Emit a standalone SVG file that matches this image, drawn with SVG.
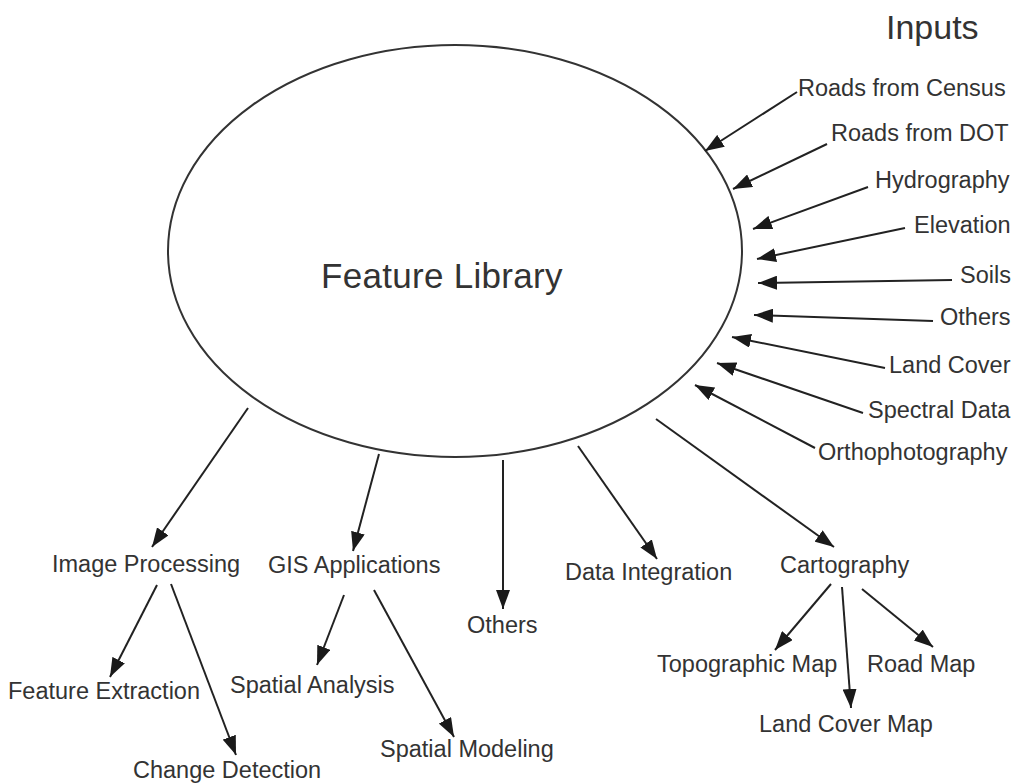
<svg xmlns="http://www.w3.org/2000/svg" width="1011" height="783" viewBox="0 0 1011 783">
<defs>
<style>
text{font-family:"Liberation Sans",Arial,sans-serif;fill:#333;font-size:23.5px}
.big{font-size:35px;letter-spacing:0.3px}
.hdr{font-size:34px}
.c line{stroke:#222;stroke-width:2;marker-end:url(#ah)}
</style>
<marker id="ah" viewBox="0 0 19 14" refX="19" refY="7" markerWidth="19" markerHeight="14" markerUnits="userSpaceOnUse" orient="auto">
<path d="M0,0 L19,7 L0,14 Z" fill="#1a1a1a"/>
</marker>
</defs>
<rect width="1011" height="783" fill="#fff"/>
<g id="feature-library">
<ellipse cx="455" cy="251" rx="287" ry="206" fill="none" stroke="#333" stroke-width="2"/>
<text class="big" x="321" y="288">Feature Library</text>
</g>
<g id="inputs-title"><text class="hdr" x="886" y="39">Inputs</text></g>
<g id="in-census"><text x="798" y="96">Roads from Census</text></g>
<g id="in-dot"><text x="831" y="141">Roads from DOT</text></g>
<g id="in-hydro"><text x="875" y="188">Hydrography</text></g>
<g id="in-elev"><text x="914" y="233">Elevation</text></g>
<g id="in-soils"><text x="960" y="283">Soils</text></g>
<g id="in-others"><text x="940" y="325">Others</text></g>
<g id="in-landcover"><text x="889" y="373">Land Cover</text></g>
<g id="in-spectral"><text x="868" y="418">Spectral Data</text></g>
<g id="in-ortho"><text x="818" y="460">Orthophotography</text></g>
<g id="out-image"><text x="52" y="572">Image Processing</text></g>
<g id="out-gis"><text x="268" y="573">GIS Applications</text></g>
<g id="out-others"><text x="467" y="633">Others</text></g>
<g id="out-data"><text x="565" y="580">Data Integration</text></g>
<g id="out-carto"><text x="780" y="573">Cartography</text></g>
<g id="feat-extract"><text x="8" y="699">Feature Extraction</text></g>
<g id="change-detect"><text x="133" y="778">Change Detection</text></g>
<g id="spatial-analysis"><text x="230" y="693">Spatial Analysis</text></g>
<g id="spatial-model"><text x="380" y="757">Spatial Modeling</text></g>
<g id="topo-map"><text x="657" y="672">Topographic Map</text></g>
<g id="road-map"><text x="867" y="672">Road Map</text></g>
<g id="landcover-map"><text x="759" y="732">Land Cover Map</text></g>
<g id="connectors" class="c">
<line x1="797" y1="92" x2="705" y2="151"/>
<line x1="827" y1="144" x2="733" y2="189"/>
<line x1="868" y1="187" x2="753" y2="229"/>
<line x1="905" y1="228" x2="757" y2="259"/>
<line x1="952" y1="280" x2="758" y2="283"/>
<line x1="933" y1="321" x2="754" y2="315"/>
<line x1="885" y1="368" x2="732" y2="337"/>
<line x1="863" y1="413" x2="717" y2="363"/>
<line x1="815" y1="448" x2="695" y2="385"/>
<line x1="248" y1="408" x2="152" y2="547"/>
<line x1="379" y1="454" x2="353" y2="551"/>
<line x1="503" y1="460" x2="503" y2="609"/>
<line x1="578" y1="446" x2="657" y2="559"/>
<line x1="656" y1="419" x2="834" y2="547"/>
<line x1="831" y1="584" x2="775" y2="650"/>
<line x1="842" y1="587" x2="851" y2="708"/>
<line x1="862" y1="589" x2="933" y2="647"/>
<line x1="157" y1="585" x2="110" y2="677"/>
<line x1="171" y1="584" x2="236" y2="755"/>
<line x1="344" y1="595" x2="317" y2="665"/>
<line x1="374" y1="590" x2="454" y2="737"/>
</g>
</svg>
